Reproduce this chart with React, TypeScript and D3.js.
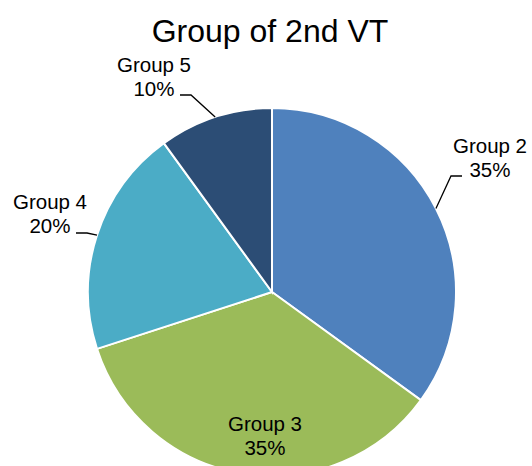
import * as d3 from "d3";

const groups = ["Group 2", "Group 3", "Group 4", "Group 5"];
const shares = [35, 35, 20, 10];
const colors = ["#4F81BD", "#9BBB59", "#4BACC6", "#2C4D75"];

// label placement: centre x, first baseline, leader start / elbow x, leader y
const labelLayout = [
  { x: 490, y: 153, leader: [462, 451], ly: 176 },
  { x: 265, y: 431, leader: null, ly: 0 },
  { x: 50, y: 209, leader: [76, 87], ly: 233 },
  { x: 154, y: 72, leader: [180, 191], ly: 95 },
];

const W = 532;
const H = 466;
const cx = 272;
const cy = 292;
const R = 184;

export default function App() {
  const data = groups.map((g, i) => ({ name: g, value: shares[i] }));

  const pie = d3
    .pie<{ name: string; value: number }>()
    .sort(null)
    .value((d) => d.value);
  const arcs = pie(data);

  const arc = d3.arc<any>().innerRadius(0).outerRadius(R);
  const edge = d3.arc<any>().innerRadius(R).outerRadius(R);

  return (
    <svg
      width={W}
      height={H}
      style={{ position: "absolute", left: 0, top: 0, background: "#fff" }}
      fontFamily="Arial, 'Liberation Sans', sans-serif"
    >
      <text x={270} y={41.5} textAnchor="middle" fontSize={32} fill="#000">
        Group of 2nd VT
      </text>
      <g transform={`translate(${cx},${cy})`}>
        {arcs.map((a, i) => (
          <path
            key={i}
            d={arc(a) as string}
            fill={colors[i]}
            stroke="#fff"
            strokeWidth={2}
          />
        ))}
      </g>
      {arcs.map((a, i) => {
        const lay = labelLayout[i];
        if (!lay.leader) return null;
        const [ex, ey] = edge.centroid(a);
        const pts: [number, number][] = [
          [lay.leader[0], lay.ly],
          [lay.leader[1], lay.ly],
          [cx + ex, cy + ey],
        ];
        return (
          <path
            key={"l" + i}
            d={d3.line()(pts) as string}
            fill="none"
            stroke="#000"
            strokeWidth={1.3}
          />
        );
      })}
      {arcs.map((a, i) => {
        const lay = labelLayout[i];
        return (
          <text
            key={"t" + i}
            x={lay.x}
            y={lay.y}
            textAnchor="middle"
            fontSize={20.5}
            fill="#000"
          >
            <tspan x={lay.x}>{a.data.name}</tspan>
            <tspan x={lay.x} dy={24}>
              {a.data.value}%
            </tspan>
          </text>
        );
      })}
    </svg>
  );
}
